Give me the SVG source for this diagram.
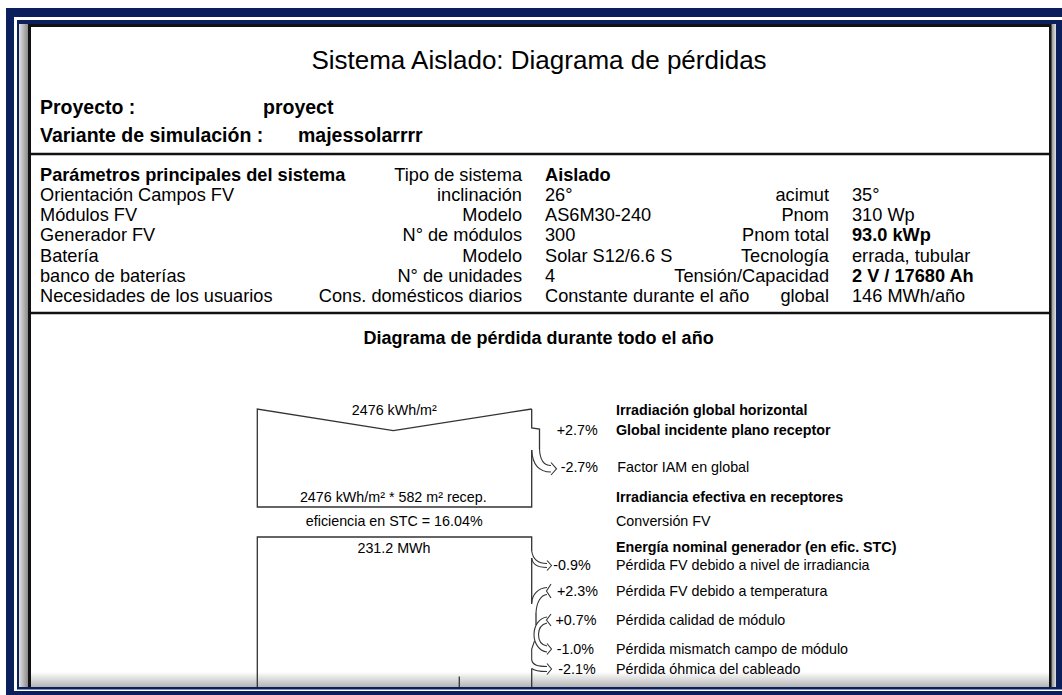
<svg xmlns="http://www.w3.org/2000/svg" width="1062" height="695" viewBox="0 0 1062 695">
<defs>
<style>
.t{font-family:"Liberation Sans",Arial,sans-serif;fill:#000}
.title{font-size:26px}
.hdr{font-size:19.5px;font-weight:bold}
.tb{font-size:18.2px}
.b{font-weight:bold}
.r{text-anchor:end}
.m{text-anchor:middle}
.d{font-size:14.3px}
.ln{fill:none;stroke:#333;stroke-width:1.3}
.ar{fill:none;stroke:#333;stroke-width:1.1}
.sec{stroke:#111;stroke-width:2.5}
</style>
<linearGradient id="gl" x1="0" y1="0" x2="1" y2="0"><stop offset="0" stop-color="#e2e2e2"/><stop offset="1" stop-color="#8a8a8a"/></linearGradient>
<linearGradient id="gr" x1="0" y1="0" x2="1" y2="0"><stop offset="0" stop-color="#8a8a8a"/><stop offset="1" stop-color="#e0e0e0"/></linearGradient>
<linearGradient id="gb" x1="0" y1="0" x2="0" y2="1"><stop offset="0" stop-color="#ffffff"/><stop offset="1" stop-color="#b5b5b5"/></linearGradient>
</defs>
<rect width="1062" height="695" fill="#ffffff"/>
<g id="frame">
<rect x="6" y="8" width="1070" height="700" fill="#0a1f5c"/>
<rect x="14" y="17" width="1060" height="674" fill="#ffffff"/>
<rect x="17" y="20" width="1060" height="669.5" fill="#0a1f5c"/>
<rect x="19" y="24" width="1037" height="663" fill="#ffffff"/>
<rect x="19" y="24" width="9" height="663" fill="url(#gl)"/>
<rect x="1051" y="24" width="5" height="663" fill="url(#gr)"/>
<rect x="28" y="672" width="1023" height="15" fill="url(#gb)"/>
<rect x="28" y="24" width="3" height="663" fill="#111"/>
<rect x="1049" y="24" width="2.5" height="663" fill="#111"/>
<rect x="28" y="24" width="1023" height="3" fill="#111"/>
<line class="sec" x1="30" y1="154" x2="1050" y2="154"/>
<line class="sec" x1="30" y1="313" x2="1050" y2="313"/>
</g>
<g id="header">
<text class="t title m" x="539" y="69">Sistema Aislado: Diagrama de pérdidas</text>
<text class="t hdr" x="40" y="113.5">Proyecto :</text>
<text class="t hdr" x="263" y="113.5">proyect</text>
<text class="t hdr" x="40" y="142">Variante de simulación :</text>
<text class="t hdr" x="298" y="142">majessolarrrr</text>
</g>
<g id="params">
<text class="t tb b" x="40" y="180.5">Parámetros principales del sistema</text>
<text class="t tb r" x="522" y="180.5">Tipo de sistema</text>
<text class="t tb b" x="545" y="180.5">Aislado</text>
<text class="t tb" x="40" y="200.8">Orientación Campos FV</text>
<text class="t tb r" x="522" y="200.8">inclinación</text>
<text class="t tb" x="545" y="200.8">26°</text>
<text class="t tb r" x="829" y="200.8">acimut</text>
<text class="t tb" x="852" y="200.8">35°</text>
<text class="t tb" x="40" y="221.1">Módulos FV</text>
<text class="t tb r" x="522" y="221.1">Modelo</text>
<text class="t tb" x="545" y="221.1">AS6M30-240</text>
<text class="t tb r" x="829" y="221.1">Pnom</text>
<text class="t tb" x="852" y="221.1">310 Wp</text>
<text class="t tb" x="40" y="241.4">Generador FV</text>
<text class="t tb r" x="522" y="241.4">N° de módulos</text>
<text class="t tb" x="545" y="241.4">300</text>
<text class="t tb r" x="829" y="241.4">Pnom total</text>
<text class="t tb b" x="852" y="241.4">93.0 kWp</text>
<text class="t tb" x="40" y="261.7">Batería</text>
<text class="t tb r" x="522" y="261.7">Modelo</text>
<text class="t tb" x="545" y="261.7">Solar S12/6.6 S</text>
<text class="t tb r" x="829" y="261.7">Tecnología</text>
<text class="t tb" x="852" y="261.7">errada, tubular</text>
<text class="t tb" x="40" y="282">banco de baterías</text>
<text class="t tb r" x="522" y="282">N° de unidades</text>
<text class="t tb" x="545" y="282">4</text>
<text class="t tb r" x="829" y="282">Tensión/Capacidad</text>
<text class="t tb b" x="852" y="282">2 V / 17680 Ah</text>
<text class="t tb" x="40" y="302.3">Necesidades de los usuarios</text>
<text class="t tb r" x="522" y="302.3">Cons. domésticos diarios</text>
<text class="t tb" x="545" y="302.3">Constante durante el año</text>
<text class="t tb r" x="829" y="302.3">global</text>
<text class="t tb" x="852" y="302.3">146 MWh/año</text>
</g>
<text class="t b m" x="538.6" y="344" style="font-size:18px">Diagrama de pérdida durante todo el año</text>
<g id="box1">
<path class="ln" d="M531.7,409 L393.3,430.7 L257.3,409 L257.3,507 L531.7,507 L531.7,450"/>
<path class="ln" d="M531.7,409 L531.7,428 L539.5,429 L539.5,449"/>
<text class="t d m" x="394.3" y="415">2476 kWh/m²</text>
<text class="t d m" x="393.3" y="502">2476 kWh/m² * 582 m² recep.</text>
<text class="t d m" x="394.2" y="526">eficiencia en STC = 16.04%</text>
</g>
<g id="box2">
<path class="ln" d="M531.7,551 L531.7,537 L257.3,537 L257.3,687"/>
<path class="ln" d="M459.3,676.5 L459.3,687"/>
<path class="ln" d="M531.7,558 L531.7,604"/>
<path class="ln" d="M536,613 L536,625"/>
<path class="ln" d="M531.7,668.5 L531.7,687"/>
<text class="t d m" x="394" y="553">231.2 MWh</text>
</g>
<g id="connectors">
<path class="ar" d="M539.5,449 C540,461 545,465.5 551,465.5"/>
<path class="ar" d="M531.7,450 C532.5,466 540,472 551,472"/>
<path class="ar" d="M551,462.5 L556.5,468.8 L551,475"/>
<path class="ar" d="M531.7,551 C533,560 539,563.5 547,563.5"/>
<path class="ar" d="M531.7,558 C532.5,565 538,567.5 547,567.5"/>
<path class="ar" d="M547,560.5 L551.5,565.5 L547,570.5"/>
<path class="ar" d="M531.7,603 C532,595 538,588 547,587.5"/>
<path class="ar" d="M536,613 C536.5,602 541,595 547,594.5"/>
<path class="ar" d="M551,584 L546.5,591 L551,598"/>
<path class="ar" d="M547,617 C539,618 534,626 534,634.5 C534,643 539,651 547,652"/>
<path class="ar" d="M547,623 C541,624.5 538.5,629 538.5,634.5 C538.5,640 541,645 547,646"/>
<path class="ar" d="M551,614 L546.5,620 L551,626"/>
<path class="ar" d="M547,643.5 L551.5,649 L547,654.5"/>
<path class="ar" d="M534.5,641 L531.7,649 L531.7,660"/>
<path class="ar" d="M531.7,660 C533,665.5 538,666.5 547,666.5"/>
<path class="ar" d="M531.7,668.5 C533.5,670 538,671.5 547,671.5"/>
<path class="ar" d="M547,663.5 L551.5,669 L547,674.5"/>
</g>
<g id="labels">
<text class="t d b" x="616" y="415">Irradiación global horizontal</text>
<text class="t d" x="556.7" y="435">+2.7%</text>
<text class="t d b" x="616" y="435">Global incidente plano receptor</text>
<text class="t d" x="560.7" y="471.5">-2.7%</text>
<text class="t d" x="617.3" y="471.5">Factor IAM en global</text>
<text class="t d b" x="616" y="502">Irradiancia efectiva en receptores</text>
<text class="t d" x="616" y="526">Conversión FV</text>
<text class="t d b" x="616" y="552">Energía nominal generador (en efic. STC)</text>
<text class="t d" x="553.3" y="570">-0.9%</text>
<text class="t d" x="616" y="570">Pérdida FV debido a nivel de irradiancia</text>
<text class="t d" x="557" y="595.5">+2.3%</text>
<text class="t d" x="616" y="595.5">Pérdida FV debido a temperatura</text>
<text class="t d" x="555.5" y="624.5">+0.7%</text>
<text class="t d" x="616" y="624.5">Pérdida calidad de módulo</text>
<text class="t d" x="556.7" y="654">-1.0%</text>
<text class="t d" x="616" y="654">Pérdida mismatch campo de módulo</text>
<text class="t d" x="558.3" y="673.5">-2.1%</text>
<text class="t d" x="616" y="673.5">Pérdida óhmica del cableado</text>
</g>
</svg>
